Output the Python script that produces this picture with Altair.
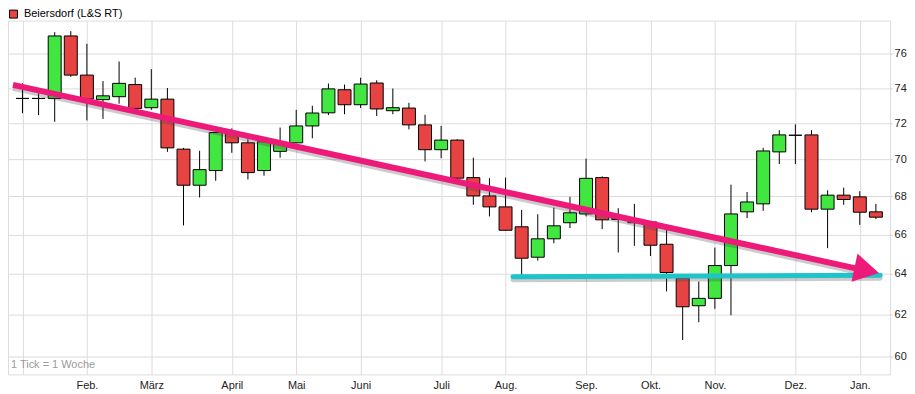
import altair as alt
import pandas as pd
import numpy as np

# ---- data (weekly candles) ----
opens = [73.4, 73.4, 73.4, 77.07, 74.75, 73.33, 73.5, 74.2, 72.87, 73.36,
         70.55, 68.59, 69.38, 71.47, 70.9, 69.38, 70.43, 70.9, 71.84, 72.58,
         73.9, 73.04, 74.29, 72.7, 72.85, 71.9, 70.52, 71.05, 69.0, 68.02,
         67.44, 66.4, 64.84, 65.78, 66.61, 67.07, 69.0, 66.78, 66.61, 66.65,
         65.5, 63.78, 62.43, 62.79, 64.42, 67.18, 67.6, 70.4, 71.32, 71.34,
         67.32, 68.06, 67.97, 67.18]
highs = [74.27, 73.7, 77.3, 77.36, 76.6, 74.4, 75.55, 74.6, 75.1, 74.0,
         70.62, 70.46, 71.5, 71.7, 71.1, 71.0, 71.75, 72.75, 72.98, 74.26,
         74.2, 74.6, 74.45, 73.97, 73.15, 72.47, 71.84, 71.1, 70.08, 68.97,
         69.0, 67.28, 67.05, 67.4, 67.97, 70.03, 69.07, 67.37, 67.6, 66.7,
         66.33, 63.78, 63.62, 65.33, 68.62, 68.23, 70.62, 71.6, 71.93, 71.6,
         68.32, 68.46, 68.27, 67.6]
lows = [72.56, 72.45, 72.07, 74.65, 72.15, 72.24, 73.1, 72.6, 72.75, 70.4,
        66.47, 67.94, 68.83, 70.35, 68.9, 69.1, 70.08, 70.88, 71.15, 72.45,
        72.5, 72.85, 72.4, 72.5, 71.65, 69.88, 70.05, 68.9, 67.55, 66.94,
        66.2, 63.94, 64.67, 65.55, 66.33, 66.94, 66.28, 65.08, 65.42, 64.9,
        63.13, 60.78, 61.63, 62.28, 61.97, 66.85, 67.23, 69.73, 69.73, 67.16,
        65.3, 67.55, 66.5, 66.8]
closes = [73.4, 73.4, 77.07, 74.75, 73.36, 73.55, 74.27, 72.83, 73.36, 70.62,
          68.59, 69.43, 71.47, 70.9, 69.27, 70.96, 70.93, 71.84, 72.57, 73.95,
          73.04, 74.23, 72.8, 72.87, 71.9, 70.52, 71.05, 68.97, 68.02, 67.44,
          66.22, 64.79, 65.78, 66.45, 67.13, 68.96, 66.76, 66.86, 66.72, 65.45,
          64.07, 62.38, 62.79, 64.42, 67.07, 67.7, 70.45, 71.34, 71.32, 67.32,
          68.06, 67.83, 67.16, 66.9]

month_ticks = [4, 8, 13, 17, 21, 26, 30, 35, 39, 43, 48, 52]
month_labels = ["Feb.", "März", "April", "Mai", "Juni", "Juli", "Aug.",
                "Sep.", "Okt.", "Nov.", "Dez.", "Jan."]
y_ticks = [60, 62, 64, 66, 68, 70, 72, 74, 76]

trend_i = [-0.59, 51.75]
trend_v = [74.18, 64.28]
arrow_i = [52.43]
arrow_v = [64.18]
support_i = [30.46, 53.27]
support_v = [63.86, 63.93]

series_name = "Beiersdorf (L&S RT)"
caption = "1 Tick = 1 Woche"

# ---- styling ----
GREEN = "#41e641"
RED = "#e84343"
PINK = "#ee1a7a"
CYAN = "#1ec4c9"
FONT = "Liberation Sans"

df = pd.DataFrame({
    "i": list(range(len(opens))),
    "open": opens, "high": highs, "low": lows, "close": closes,
})
df["dir"] = np.where(df["close"] > df["open"], "up",
                     np.where(df["close"] < df["open"], "down", "flat"))

xs = alt.Scale(domain=[-0.59, 53.57], nice=False, zero=False)
ys = alt.Scale(type="log", domain=[59.17, 78.0], nice=False, zero=False)

all_x = [0] + month_ticks
lbls = "[" + ",".join("'%s'" % m for m in month_labels) + "]"
label_expr = ("indexof(%s, datum.value) < 0 ? '' : %s[indexof(%s, datum.value)]"
              % (str(month_ticks), lbls, str(month_ticks)))

xaxis = alt.Axis(values=all_x, labelExpr=label_expr, grid=True, gridColor="#dcdcdc",
                 ticks=False, domain=False, title=None, labelFontSize=11,
                 labelColor="#222222", labelFont=FONT, labelPadding=5,
                 labelOverlap=False, labelFlush=False)
yaxis = alt.Axis(orient="right", values=y_ticks, format="d", grid=True,
                 gridColor="#dcdcdc", ticks=True, tickSize=2, tickColor="#cccccc",
                 domain=False, title=None, labelFontSize=11, labelColor="#222222",
                 labelFont=FONT, labelPadding=2)


def X(f):
    return alt.X(f + ":Q", scale=xs, axis=xaxis)


def Y(f):
    return alt.Y(f + ":Q", scale=ys, axis=yaxis)


base = alt.Chart(df)

wicks = base.mark_rule(color="black", strokeWidth=1).encode(
    x=X("i"), y=Y("low"), y2=alt.Y2("high"))

bodies = base.mark_bar(size=13, stroke="black", strokeWidth=1, opacity=1).encode(
    x=X("i"), y=Y("open"), y2=alt.Y2("close"),
    fill=alt.Fill("dir:N", scale=alt.Scale(domain=["up", "down", "flat"],
                                           range=[GREEN, RED, "black"]), legend=None))

support_df = pd.DataFrame({"i": support_i, "v": support_v})
support_shadow = alt.Chart(support_df).mark_line(
    color="#444444", opacity=0.28, strokeWidth=5, yOffset=3, strokeCap="round", clip=True
).encode(x=X("i"), y=Y("v"))
support = alt.Chart(support_df).mark_line(
    color=CYAN, strokeWidth=5, strokeCap="round", clip=True
).encode(x=X("i"), y=Y("v"))

trend_df = pd.DataFrame({"i": trend_i, "v": trend_v})
trend_shadow = alt.Chart(trend_df).mark_line(
    color="#444444", opacity=0.28, strokeWidth=6, yOffset=3, clip=True
).encode(x=X("i"), y=Y("v"))
trend = alt.Chart(trend_df).mark_line(
    color=PINK, strokeWidth=6, clip=True
).encode(x=X("i"), y=Y("v"))

arrow_df = pd.DataFrame({"i": arrow_i, "v": arrow_v})
arrow = alt.Chart(arrow_df).mark_point(
    shape="triangle-right", filled=True, size=840, angle=12, color=PINK, opacity=1
).encode(x=X("i"), y=Y("v"))

legend_df = pd.DataFrame({"series": [series_name], "i": [-5.0], "v": [70.0]})
legend_layer = alt.Chart(legend_df).mark_square(
    size=64, stroke="black", strokeWidth=1, opacity=1, clip=True
).encode(
    x=X("i"), y=Y("v"),
    color=alt.Color("series:N", scale=alt.Scale(domain=[series_name], range=[RED]),
                    legend=alt.Legend(orient="none", legendX=0, legendY=-12, title=None,
                                      symbolType="square", symbolSize=64,
                                      symbolStrokeColor="black", symbolStrokeWidth=1,
                                      labelFontSize=11, labelFont=FONT,
                                      labelColor="black", padding=0, labelOffset=5,
                                      rowPadding=0)))

cap = alt.Chart(pd.DataFrame({"t": [caption]})).mark_text(
    align="left", baseline="middle", color="#9a9a9a", fontSize=11, font=FONT
).encode(text="t:N", x=alt.value(3), y=alt.value(346))

chart = alt.layer(
    wicks, bodies, support_shadow, support, trend_shadow, trend, arrow, legend_layer, cap
).properties(width=885, height=355, padding=0, background="white").configure_view(
    stroke="#c8c8c8", strokeWidth=1
).configure(font=FONT)

chart.save("out.html", embed_options={"renderer": "svg", "actions": False})
